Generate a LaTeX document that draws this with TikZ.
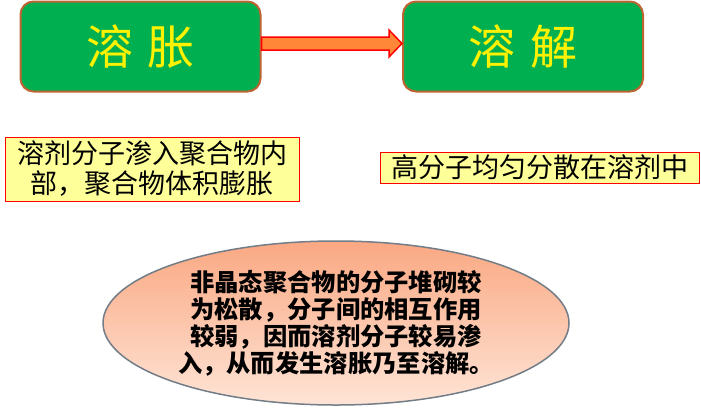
\documentclass[tikz,border=0pt]{standalone}
\usepackage{fontspec}
\newfontfamily\cjk{Noto Sans CJK SC}
\usetikzlibrary{positioning,calc,shapes.geometric}

\definecolor{stagegreen}{RGB}{0,176,80}
\definecolor{stageedge}{RGB}{190,100,50}
\definecolor{notefill}{RGB}{255,255,153}
\definecolor{arrowfill}{RGB}{255,135,55}
\definecolor{ovaltop}{RGB}{250,168,130}
\definecolor{ovalbottom}{RGB}{254,228,214}
\definecolor{ovaledge}{RGB}{115,125,135}

\tikzset{
	stage/.style={draw=stageedge, line width=2pt, fill=stagegreen, rounded corners=13pt,
		minimum width=240pt, minimum height=90pt, inner sep=0pt, text=yellow,
		font=\cjk\fontsize{47}{52}\selectfont},
	note/.style={draw=red, line width=1pt, fill=notefill, inner sep=0pt, align=center,
		font=\cjk\fontsize{27}{30}\selectfont},
	oval/.style={ellipse, draw=ovaledge, line width=1.5pt, top color=ovaltop, bottom color=ovalbottom,
		minimum width=466pt, minimum height=164pt, inner sep=0pt, align=center,
		font=\cjk\bfseries\fontsize{24.3}{27}\selectfont},
	blockarrow/.style={draw=red, line width=1.5pt, fill=arrowfill, line join=miter}
}

\begin{document}
\begin{tikzpicture}[x=1pt,y=-1pt]
		\useasboundingbox (0,0) rectangle (701,408);
		
		\node[stage] (swell) at (140.5,46.5) {溶\hspace{15pt}胀};
		\node[stage] (dissolve) at (523,46.5) {溶\hspace{15pt}解};
		
		\draw[blockarrow] ($(swell.east)+(0,-9.5)$) -- ($(dissolve.west)+(-13,-9.5)$)
			-- ($(dissolve.west)+(-13,-16.5)$) -- ($(dissolve.west)+(0,-3)$)
			-- ($(dissolve.west)+(-13,10.5)$) -- ($(dissolve.west)+(-13,3.5)$)
			-- ($(swell.east)+(0,3.5)$) -- cycle;
		
		\node[note, minimum width=294pt, minimum height=64pt] (swellnote) at (152,169)
			{溶剂分子渗入聚合物内\\部，聚合物体积膨胀};
		\node[note, minimum width=319pt, minimum height=31pt] (dissolvenote) at (539.5,167.5)
			{高分子均匀分散在溶剂中};
		
		\node[oval] (cause) at (336,323)
			{非晶态聚合物的分子堆砌较\\为松散，分子间的相互作用\\较弱，因而溶剂分子较易渗\\入，从而发生溶胀乃至溶解。};
	\end{tikzpicture}
\end{document}
